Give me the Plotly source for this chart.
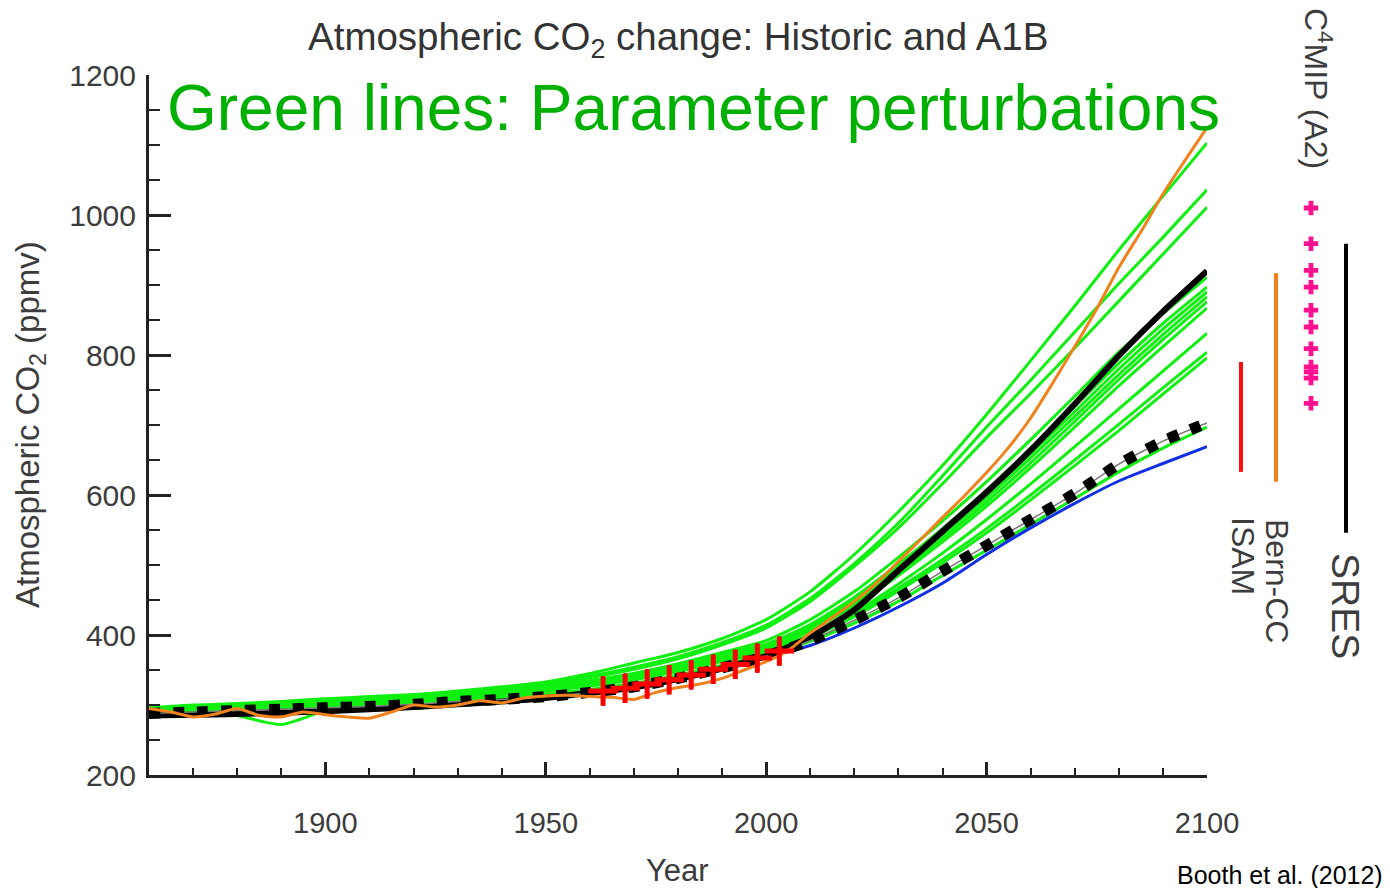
import plotly.graph_objects as go

# ---------------------------------------------------------------- data
YEARS = list(range(1860, 2101, 10))

# parameter-perturbed ensemble (ppmv, one value per decade 1860-2100)
GREEN_RUNS = [
    [296, 300, 302, 305, 309, 312, 315, 320, 326, 333, 345, 360, 375, 395, 422, 462, 515, 576, 642, 715, 792, 870, 950, 1027, 1103],
    [294, 298, 301, 303, 307, 310, 313, 318, 323, 330, 341, 354, 369, 389, 414, 452, 502, 560, 627, 697, 764, 833, 902, 968, 1036],
    [295, 297, 300, 304, 306, 309, 313, 317, 322, 329, 339, 351, 366, 386, 410, 448, 498, 553, 616, 682, 745, 810, 877, 944, 1011],
    [292, 295, 299, 301, 304, 307, 310, 314, 319, 326, 334, 345, 359, 375, 392, 422, 462, 511, 563, 619, 679, 741, 804, 859, 911],
    [293, 295, 297, 302, 303, 307, 309, 314, 320, 327, 335, 345, 358, 373, 387, 415, 454, 501, 552, 607, 666, 727, 788, 845, 897],
    [289, 293, 299, 300, 302, 305, 308, 312, 316, 323, 331, 340, 352, 369, 385, 412, 450, 497, 547, 601, 659, 719, 780, 837, 890],
    [291, 294, 296, 299, 304, 306, 310, 314, 318, 324, 332, 342, 355, 370, 384, 410, 447, 493, 543, 596, 653, 712, 772, 829, 883],
    [290, 293, 298, 301, 302, 304, 309, 312, 317, 324, 331, 340, 352, 368, 382, 408, 445, 489, 538, 590, 646, 705, 765, 822, 876],
    [292, 296, 297, 299, 303, 306, 308, 313, 319, 325, 333, 341, 353, 367, 380, 406, 442, 485, 533, 584, 639, 697, 756, 812, 867],
    [290, 294, 296, 298, 302, 305, 308, 312, 317, 323, 330, 338, 350, 364, 378, 400, 432, 473, 517, 565, 616, 669, 723, 777, 831],
    [291, 292, 297, 300, 303, 305, 309, 311, 316, 322, 329, 337, 349, 363, 376, 398, 429, 467, 508, 552, 600, 650, 701, 753, 804],
    [290, 295, 285, 272, 292, 302, 306, 311, 315, 320, 327, 336, 348, 362, 375, 396, 426, 463, 503, 546, 593, 642, 692, 744, 796],
    [288, 291, 294, 296, 299, 301, 304, 308, 311, 316, 322, 331, 343, 357, 372, 391, 417, 448, 485, 521, 558, 595, 633, 667, 697],
]

# standard model (thick black)
STANDARD = [285, 286, 287, 289, 291, 294, 297, 301, 305, 310, 317, 325, 337, 352, 370,
            397, 436, 492, 548, 604, 664, 730, 799, 862, 920]

# dashed reference run
DASHED = [288, 290, 292, 294, 296, 298, 301, 305, 308, 312, 318, 326, 338, 353, 370,
          392, 421, 453, 491, 528, 565, 602, 644, 677, 703]

# blue run (scenario period only)
BLUE_YEARS = list(range(2000, 2101, 10))
BLUE = [368, 385, 410, 440, 474, 515, 553, 588, 620, 645, 669]

# orange run at 5-year resolution
ORANGE_YEARS = list(range(1860, 2101, 5))
ORANGE = [295, 290, 283, 287, 295, 285, 283, 290, 286, 283, 281, 290, 300, 297, 300, 306,
          303, 310, 313, 314, 312, 311, 308, 318, 325, 330, 338, 350, 362, 378, 403, 425,
          448, 474, 505, 536, 568, 599, 632, 668, 710, 760, 812, 866, 925, 976, 1030, 1078, 1125]

# observations with uncertainty
OBS_YEARS = [1963, 1968, 1973, 1978, 1983, 1988, 1993, 1998, 2003]
OBS = [320, 324, 330, 336, 343, 351, 358, 367, 377]
OBS_ERR = [21, 21, 21, 21, 21, 21, 21, 21, 21]

# 2100 ranges from other studies
RANGE_NAMES = ["ISAM", "Bern-CC", "C4MIP", "SRES"]
ISAM_RANGE = [633, 790]
BERN_RANGE = [619, 917]
SRES_RANGE = [546, 959]
C4MIP_2100 = [1010, 959, 921, 897, 864, 840, 809, 783, 776, 767, 731]

# ---------------------------------------------------------------- layout helpers
W, H = 1390, 888
ML, MR, MT, MB = 149, 0, 75, 113
PW, PH = W - ML - MR, H - MT - MB
MAIN_RIGHT = 1207          # pixel where the year axis ends


def paper(px, py):
    return (px - ML) / PW, (H - MB - py) / PH


FONT = "Liberation Sans, Arial, sans-serif"
GREY = "#3c3c3c"

fig = go.Figure()

for run in GREEN_RUNS:
    fig.add_trace(go.Scatter(x=YEARS, y=run, mode="lines",
                             line=dict(color="#10f010", width=3, shape="spline", smoothing=0.6),
                             hoverinfo="skip"))

fig.add_trace(go.Scatter(x=BLUE_YEARS, y=BLUE, mode="lines",
                         line=dict(color="#1030e8", width=3, shape="spline", smoothing=0.6)))

fig.add_trace(go.Scatter(x=YEARS, y=STANDARD, mode="lines",
                         line=dict(color="black", width=6, shape="spline", smoothing=0.6)))

fig.add_trace(go.Scatter(x=YEARS, y=DASHED, mode="lines",
                         line=dict(color="#777777", width=1.5, shape="spline", smoothing=0.6)))
fig.add_trace(go.Scatter(x=YEARS, y=DASHED, mode="lines",
                         line=dict(color="black", width=11, dash="11px,13px",
                                   shape="spline", smoothing=0.6)))

fig.add_trace(go.Scatter(x=ORANGE_YEARS, y=ORANGE, mode="lines",
                         line=dict(color="#f0821e", width=3, shape="spline", smoothing=0.6)))

fig.add_trace(go.Scatter(x=OBS_YEARS, y=OBS, mode="markers",
                         marker=dict(symbol="cross-thin", size=21, color="red",
                                     line=dict(color="red", width=5)),
                         error_y=dict(type="data", array=OBS_ERR, color="black",
                                      thickness=2, width=0)))

# ranges beside the plot, on a categorical axis
fig.add_trace(go.Scatter(x=[RANGE_NAMES[0]] * 2, y=ISAM_RANGE, xaxis="x2", mode="lines",
                         line=dict(color="#ff1010", width=4)))
fig.add_trace(go.Scatter(x=[RANGE_NAMES[1]] * 2, y=BERN_RANGE, xaxis="x2", mode="lines",
                         line=dict(color="#f0821e", width=4)))
fig.add_trace(go.Scatter(x=[RANGE_NAMES[2]] * len(C4MIP_2100), y=C4MIP_2100, xaxis="x2",
                         mode="markers",
                         marker=dict(symbol="cross", size=12, color="#ff1090",
                                     line=dict(width=0))))
fig.add_trace(go.Scatter(x=[RANGE_NAMES[3]] * 2, y=SRES_RANGE, xaxis="x2", mode="lines",
                         line=dict(color="black", width=4)))

# ---------------------------------------------------------------- axes
main_dom = (MAIN_RIGHT - ML) / PW
col_px = [1241, 1346]       # pixel centres of first and last range column
unit = (col_px[1] - col_px[0]) / 3
x2_lo = -(col_px[0] - MAIN_RIGHT) / unit
x2_hi = 3 + (W - MR - col_px[1]) / unit

fig.update_layout(
    width=W, height=H, autosize=False,
    margin=dict(l=ML, r=MR, t=MT, b=MB, autoexpand=False),
    paper_bgcolor="white", plot_bgcolor="white",
    showlegend=False,
    font=dict(family=FONT, color=GREY),
    xaxis=dict(domain=[0, main_dom], range=[1860, 2100], showgrid=False, zeroline=False,
               showline=True, linecolor="#222", linewidth=3, automargin=False,
               ticks="inside", ticklen=13, tickwidth=2.5, tickcolor="#222",
               tick0=1900, dtick=50,
               minor=dict(ticks="inside", ticklen=7, tickwidth=2, tickcolor="#222",
                          tick0=1860, dtick=10, showgrid=False),
               tickfont=dict(size=29, color=GREY), ticklabelstandoff=20),
    xaxis2=dict(domain=[main_dom, 1], anchor="y", type="category",
                categoryorder="array", categoryarray=RANGE_NAMES,
                range=[x2_lo, x2_hi], visible=False),
    yaxis=dict(range=[200, 1200], showgrid=False, zeroline=False,
               showline=True, linecolor="#222", linewidth=3, automargin=False,
               ticks="inside", ticklen=22, tickwidth=2.5, tickcolor="#222",
               tick0=200, dtick=200,
               minor=dict(ticks="inside", ticklen=11, tickwidth=2, tickcolor="#222",
                          dtick=50, showgrid=False),
               tickfont=dict(size=30, color=GREY), ticklabelstandoff=4),
)

# ---------------------------------------------------------------- text
def note(text, px, py, size, color=GREY, angle=0):
    x, y = paper(px, py)
    fig.add_annotation(x=x, y=y, xref="paper", yref="paper", text=text, showarrow=False,
                       textangle=angle, xanchor="center", yanchor="middle",
                       font=dict(family=FONT, size=size, color=color))


note("Atmospheric CO<sub>2</sub> change: Historic and A1B", 678, 40, 38.5, "#333")
note("Green lines: Parameter perturbations", 693, 108, 64, "#00b000")
note("Atmospheric CO<sub>2</sub> (ppmv)", 30, 425, 33, angle=-90)
note("Year", 677, 870, 31)
note("Booth et al. (2012)", 1280, 875, 25, "black")
note("C<sup>4</sup>MIP (A2)", 1318, 88, 32, angle=90)
note("SRES", 1346, 606, 39, angle=90)
note("Bern-CC", 1277, 581, 32, angle=90)
note("ISAM", 1243, 556, 32, angle=90)

fig.write_html("out.html", config={"responsive": False})
